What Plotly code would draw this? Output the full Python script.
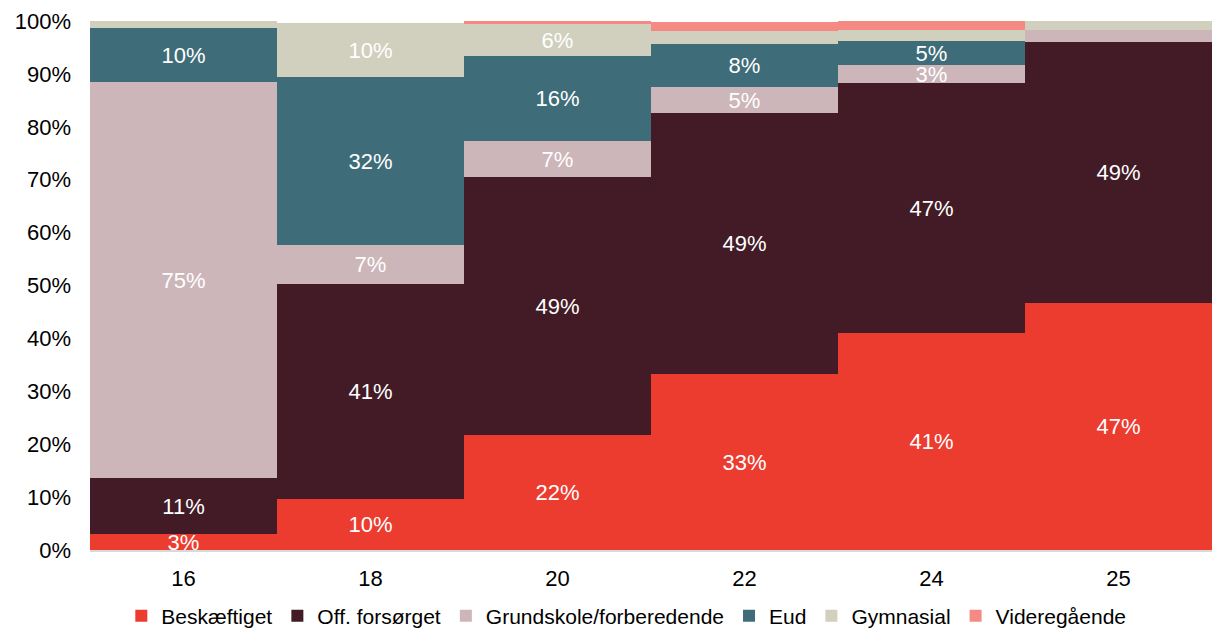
import plotly.graph_objects as go

ages = ["16", "18", "20", "22", "24", "25"]
beskaeftiget = [3.0, 9.6, 21.7, 33.3, 41.0, 46.7]
off_forsorget = [10.6, 40.6, 48.8, 49.3, 47.3, 49.3]
grundskole = [74.9, 7.4, 6.8, 4.9, 3.3, 2.3]
eud = [10.2, 31.9, 16.1, 8.1, 4.6, 0.0]
gymnasial = [1.5, 10.2, 6.0, 2.6, 2.1, 1.7]
videregaaende = [0.0, 0.0, 0.6, 1.7, 1.7, 0.0]

series = [
    ("Beskæftiget", beskaeftiget, "#EC3B2F"),
    ("Off. forsørget", off_forsorget, "#421B26"),
    ("Grundskole/forberedende", grundskole, "#CDB6B9"),
    ("Eud", eud, "#3E6C78"),
    ("Gymnasial", gymnasial, "#D1D0BE"),
    ("Videregående", videregaaende, "#F48A83"),
]

FONT = "Liberation Sans, Arial, sans-serif"

fig = go.Figure()
for name, vals, color in series:
    labels = [f"{v:.0f}%" if v >= 3 else "" for v in vals]
    fig.add_trace(go.Bar(
        x=ages, y=vals, name=name,
        marker=dict(color=color, line=dict(width=0)),
        text=labels, textposition="inside", insidetextanchor="middle",
        constraintext="none", cliponaxis=False,
        textfont=dict(color="white", size=22, family=FONT),
        hoverinfo="skip",
    ))

fig.update_layout(
    barmode="stack", bargap=0,
    width=1204, height=623,
    margin=dict(l=82, r=0, t=13, b=81),
    paper_bgcolor="white", plot_bgcolor="white",
    font=dict(family=FONT, size=21, color="#000"),
    uniformtext=dict(minsize=22, mode="show"),
    showlegend=True,
    legend=dict(orientation="h", x=0.478, xanchor="center",
                yref="container", y=0.024, yanchor="middle",
                font=dict(size=21), traceorder="normal", itemwidth=30,
                tracegroupgap=0),
    xaxis=dict(type="category", showgrid=False, showline=True, linecolor="#d9d9d9",
               linewidth=2, ticks="", tickfont=dict(size=22), ticklabelstandoff=8),
    yaxis=dict(range=[0, 100], dtick=10, ticksuffix="%", showgrid=False,
               zeroline=False, showline=False, ticks="", tickfont=dict(size=22),
               ticklabelstandoff=18),
)

fig.write_html("out.html")
